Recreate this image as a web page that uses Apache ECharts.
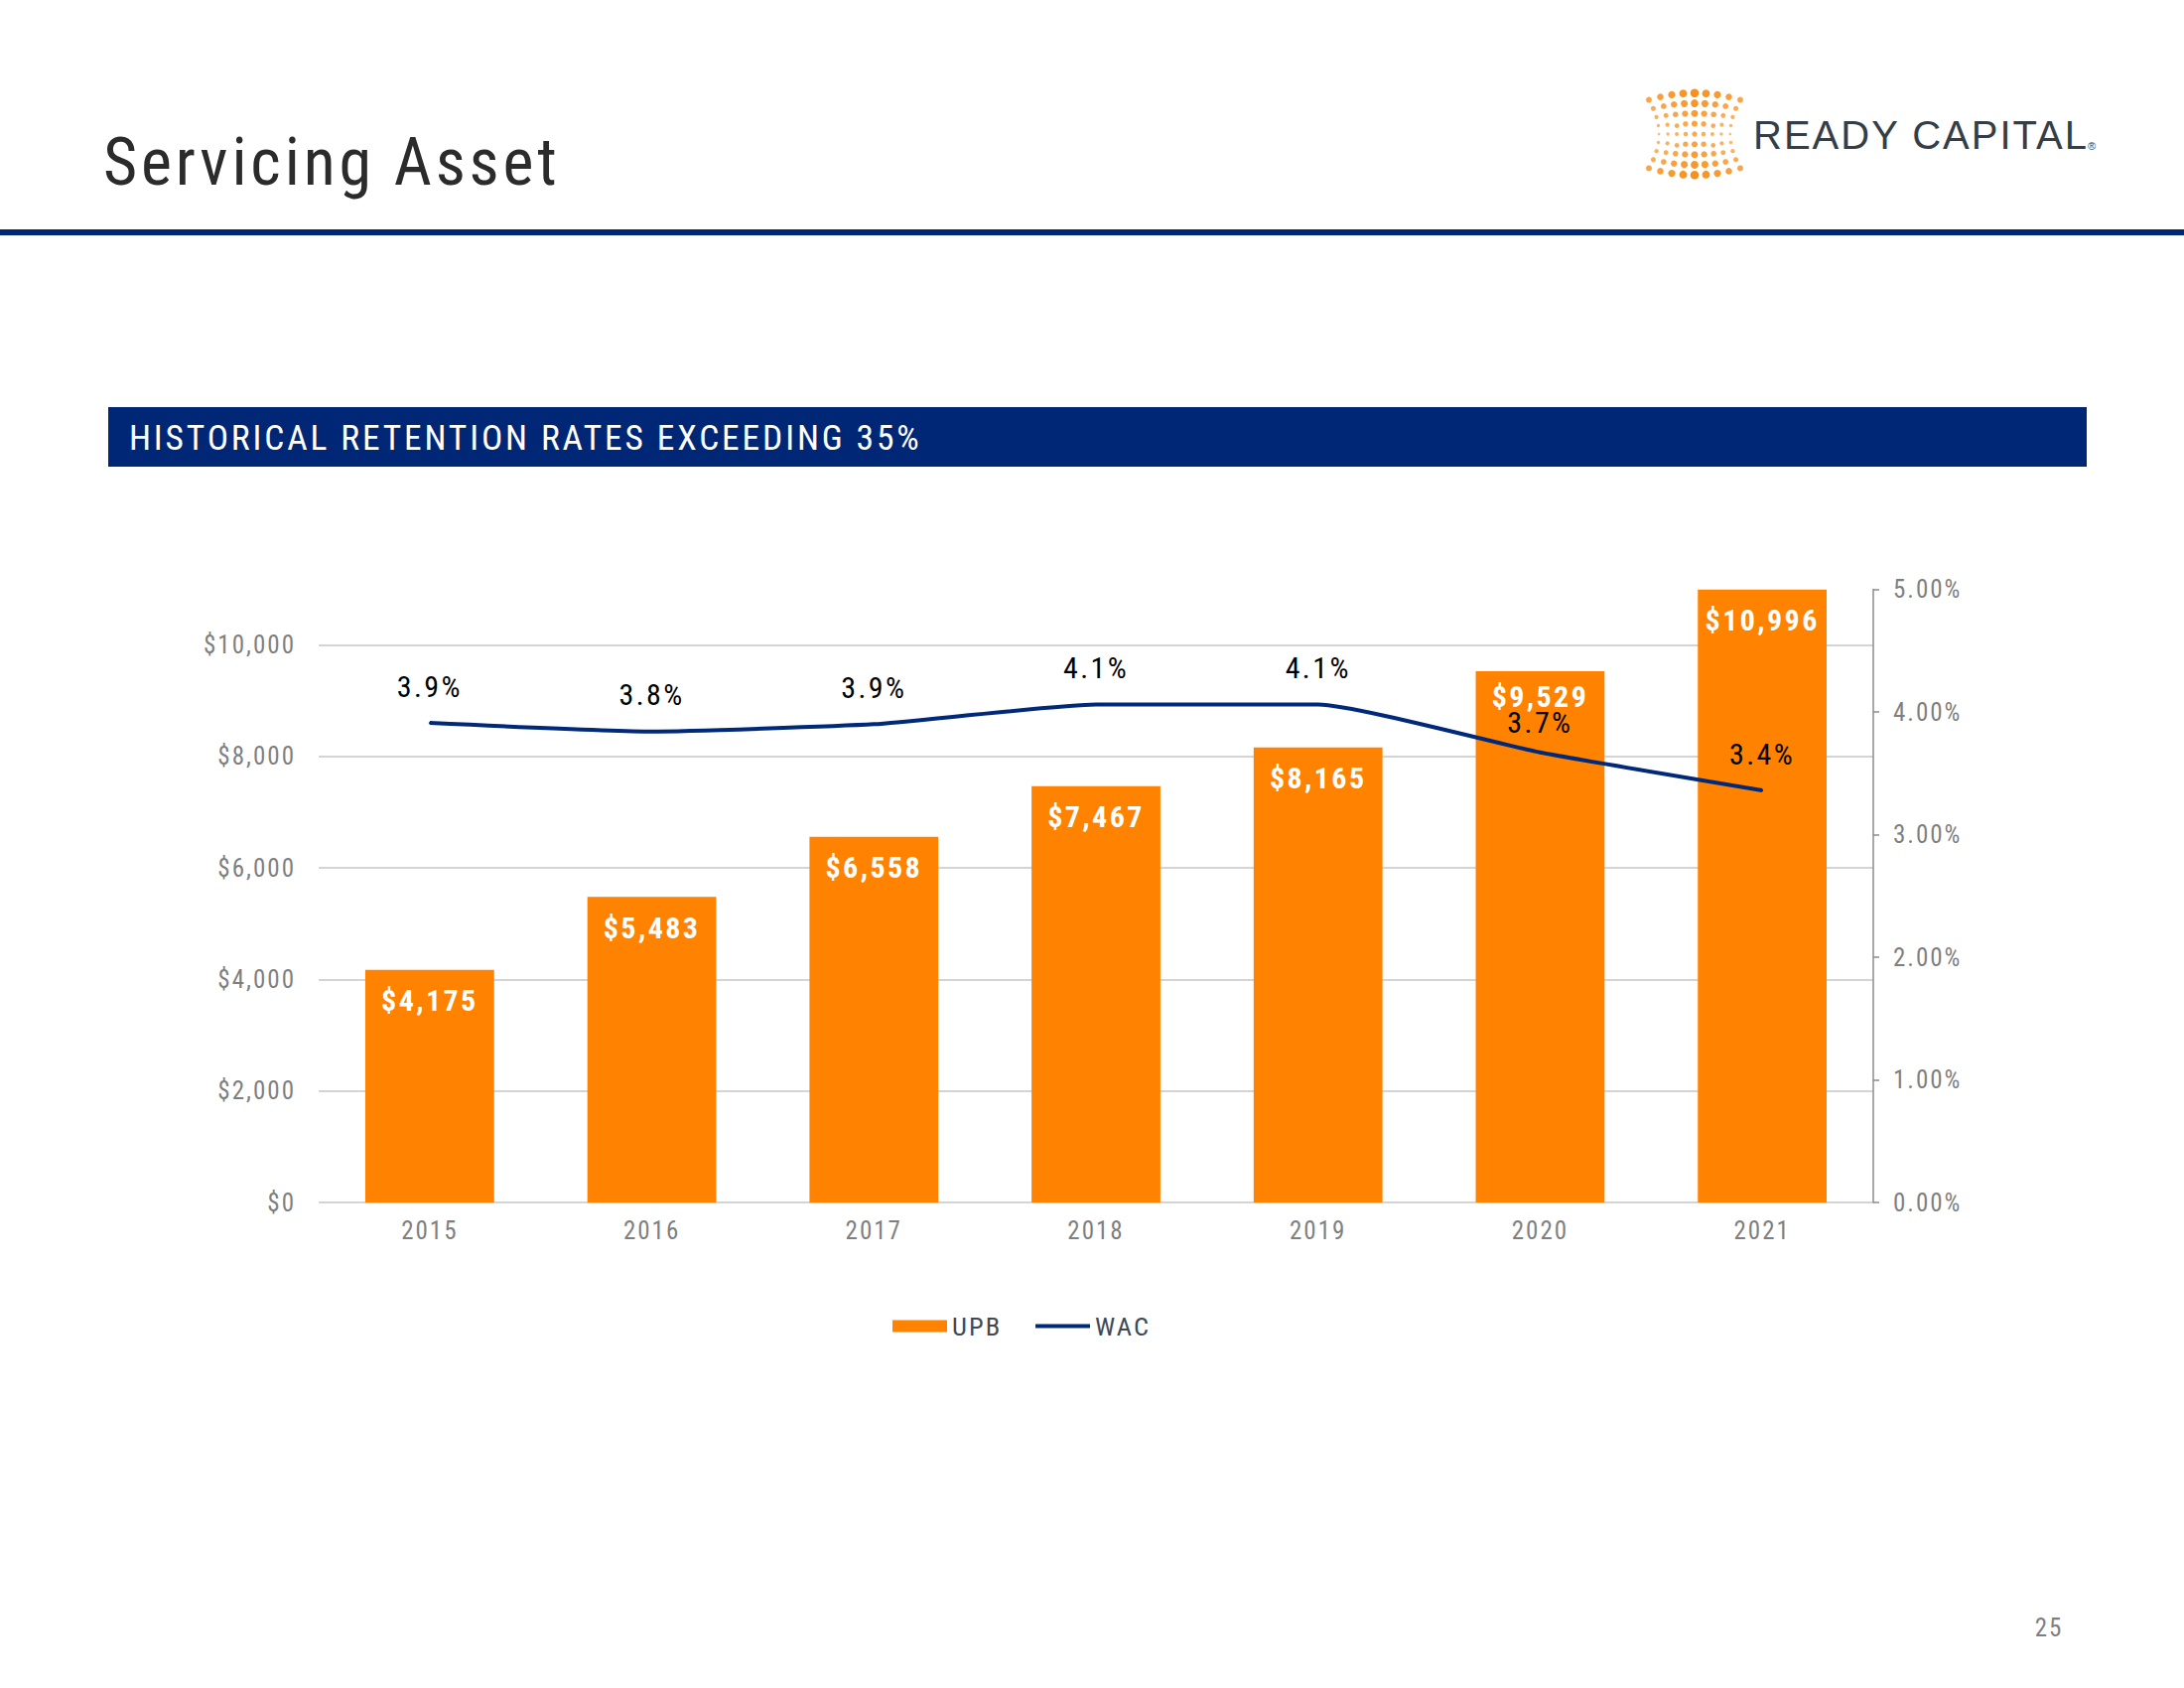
<!DOCTYPE html>
<html><head><meta charset="utf-8">
<script src="https://cdn.jsdelivr.net/npm/echarts@6/dist/echarts.min.js"></script>
<style>
html,body{margin:0;padding:0;background:#fff;}
#chart{width:2200px;height:1700px;}
#chart text[style*="Narrow"], #chart text[font-family*="Narrow"]{letter-spacing:0.08em;}
#chart text[style*="66px"], #chart text[font-size*="66"]{letter-spacing:0.058em;}
#chart text[style*="Helvetica"], #chart text[font-family*="Helvetica"]{letter-spacing:2.0px;}
</style></head><body><div id="chart"></div>
<script>
// ---- data ----
const years = ['2015', '2016', '2017', '2018', '2019', '2020', '2021'];
const upb = [4175, 5483, 6558, 7467, 8165, 9529, 10996];
const wac = [3.91, 3.84, 3.90, 4.06, 4.06, 3.67, 3.36];
const seriesNames = ['UPB', 'WAC'];
const titleText = 'Servicing Asset';
const bannerText = 'HISTORICAL RETENTION RATES EXCEEDING 35%';
const logoText = 'READY CAPITAL';
const pageNumber = '25';

// ---- style ----
const NARROW = "'Liberation Sans Narrow','Arial Narrow','Roboto Condensed',sans-serif";
const LOGOFONT = "'Liberation Sans',Helvetica,sans-serif";
const NAVY = '#002776';
const ORANGE = '#FF8200';
const LINE = '#00297A';
// label nudges for the crowded 2020 column (as placed in the reference)
const crowdedIndex = years.indexOf('2020');

// logo dots (decoration)
const dots = [];
const lcx = 1707, lcy = 135;
for (let j = -4; j <= 4; j++) {
  for (let i = -4; i <= 4; i++) {
    const u = i / 4, v = j / 4;
    const x = lcx + i * 11.5 * (1 - 0.22 * (1 - v * v));
    const y = lcy + j * 8.6 * (1 + 0.2 * (1 - u * u));
    const w = 0.55 * Math.abs(v) + 0.45 * (1 - Math.abs(u));
    dots.push({
      type: 'circle', silent: true,
      shape: { cx: x, cy: y, r: 1.3 + 3.0 * w },
      style: { fill: '#F7901E', opacity: 0.6 + 0.4 * w }
    });
  }
}

const barData = upb.map((v, i) => i === crowdedIndex ? { value: v, label: { distance: 10 } } : v);
const lineData = wac.map((v, i) => i === crowdedIndex ? { value: v, label: { distance: 14 } } : v);

const chart = echarts.init(document.getElementById('chart'), null, { renderer: 'svg' });
const option = {
  animation: false,
  backgroundColor: '#fff',
  graphic: [
    { type: 'text', x: 104, y: 163, silent: true,
      style: { text: titleText, fontSize: 66, fontFamily: NARROW, fill: '#2b2b2b', align: 'left', verticalAlign: 'middle' } },
    { type: 'rect', silent: true, shape: { x: 0, y: 231, width: 2200, height: 6 }, style: { fill: NAVY } },
    ...dots,
    { type: 'text', x: 1766, y: 136, silent: true,
      style: { text: logoText, fontSize: 40, fontFamily: LOGOFONT, fill: '#353e47', align: 'left', verticalAlign: 'middle' } },
    { type: 'text', x: 2103, y: 147, silent: true,
      style: { text: '®', fontSize: 11, fontFamily: "'Liberation Sans',Arial,sans-serif", fill: '#353e47', align: 'left', verticalAlign: 'middle' } },
    { type: 'rect', silent: true, shape: { x: 109, y: 410, width: 1993, height: 60 }, style: { fill: NAVY } },
    { type: 'text', x: 130, y: 441, silent: true,
      style: { text: bannerText, fontSize: 35.5, fontFamily: NARROW, fill: '#ffffff', align: 'left', verticalAlign: 'middle' } },
    { type: 'text', x: 2064, y: 1639, silent: true,
      style: { text: pageNumber, fontSize: 25, fontFamily: NARROW, fill: '#7f7f7f', align: 'center', verticalAlign: 'middle' } }
  ],
  grid: { left: 321, right: 313, top: 593.5, bottom: 489, containLabel: false },
  legend: {
    left: 894, top: 1317, itemWidth: 55, itemHeight: 12, itemGap: 40,
    textStyle: { fontFamily: NARROW, fontSize: 26.5, color: '#3d4a57' },
    data: [
      { name: seriesNames[0], icon: 'rect' },
      { name: seriesNames[1], icon: 'path://M0,0H100V7H0Z', itemStyle: { color: LINE } }
    ]
  },
  xAxis: {
    type: 'category', data: years,
    axisLine: { show: false }, axisTick: { show: false },
    axisLabel: { fontFamily: NARROW, fontSize: 25, color: '#7f7f7f', margin: 16 }
  },
  yAxis: [
    {
      type: 'value', min: 0, max: 11000, interval: 2000,
      axisLine: { show: false }, axisTick: { show: false },
      axisLabel: {
        showMaxLabel: false, margin: 23, fontFamily: NARROW, fontSize: 25, color: '#7f7f7f',
        formatter: v => '$' + v.toLocaleString('en-US')
      },
      splitLine: { show: true, showMaxLine: false, lineStyle: { color: '#c6c6c6', width: 1.5 } }
    },
    {
      type: 'value', position: 'right', min: 0, max: 5, interval: 1,
      axisLine: { show: true, lineStyle: { color: '#8c8c8c', width: 1.5 } },
      axisTick: { show: true, length: 6, lineStyle: { color: '#8c8c8c', width: 1.5 } },
      splitLine: { show: false },
      axisLabel: {
        margin: 20, fontFamily: NARROW, fontSize: 25, color: '#7f7f7f',
        formatter: v => v.toFixed(2) + '%'
      }
    }
  ],
  series: [
    {
      name: seriesNames[0], type: 'bar', data: barData, barWidth: '58%', yAxisIndex: 0,
      itemStyle: { color: ORANGE },
      label: {
        show: true, position: 'insideTop', distance: 16, color: '#ffffff',
        fontWeight: 'bold', fontSize: 30, fontFamily: NARROW,
        formatter: p => '$' + p.value.toLocaleString('en-US')
      }
    },
    {
      name: seriesNames[1], type: 'line', data: lineData, yAxisIndex: 1, smooth: 0.15,
      symbol: 'circle', symbolSize: 2, showSymbol: true, z: 5,
      lineStyle: { color: LINE, width: 4 }, itemStyle: { color: LINE },
      label: {
        show: true, position: 'top', distance: 21, color: '#000000',
        fontSize: 30, fontFamily: NARROW,
        formatter: p => p.value.toFixed(1) + '%'
      }
    }
  ]
};
chart.setOption(option);
</script></body></html>
